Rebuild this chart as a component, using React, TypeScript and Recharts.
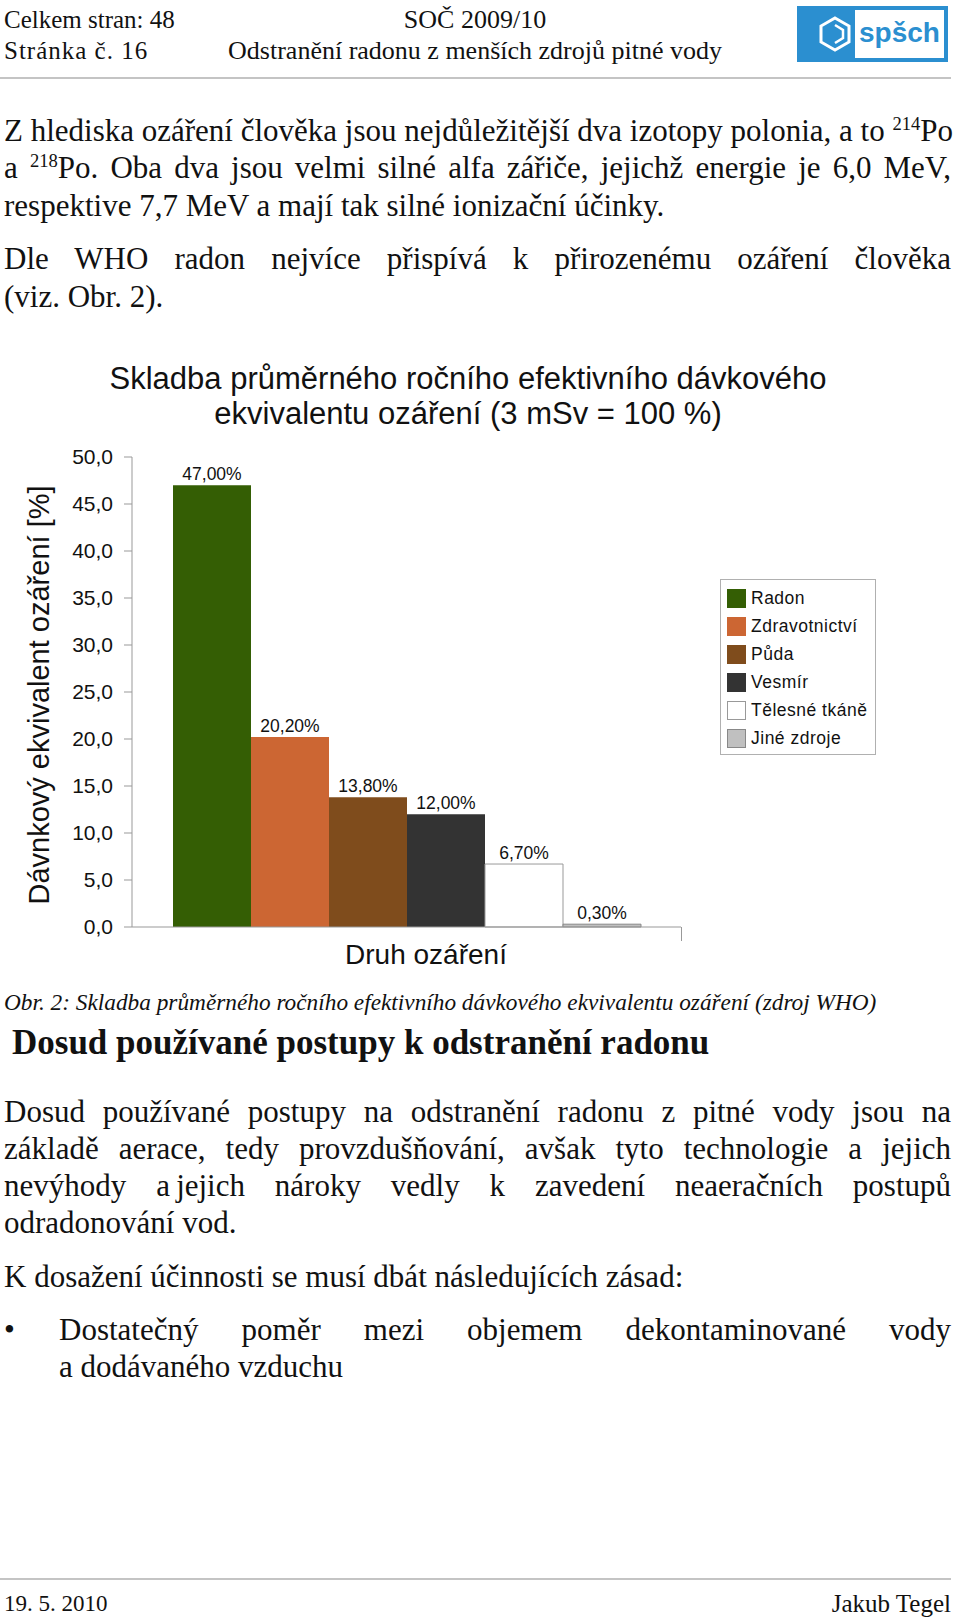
import React from "react";
import { Bar, BarChart, LabelList, XAxis, YAxis } from "recharts";

const sources = ["Radon", "Zdravotnictví", "Půda", "Vesmír", "Tělesné tkáně", "Jiné zdroje"];
const shares = [47.0, 20.2, 13.8, 12.0, 6.7, 0.3];
const fills = ["#345e04", "#cc6633", "#7f4c1c", "#333333", "#ffffff", "#c0c0c0"];
const strokes = ["#345e04", "#cc6633", "#7f4c1c", "#333333", "#999999", "#888888"];
const yTicks = [0, 5, 10, 15, 20, 25, 30, 35, 40, 45, 50];
const categories = ["Druh ozáření"];

const rows = categories.map((c) => {
	const r: { [k: string]: string | number } = { category: c };
	shares.forEach((v, i) => (r["s" + i] = v));
	return r;
});

const serif = '"Liberation Serif", "Times New Roman", serif';
const sans = '"Liberation Sans", Arial, sans-serif';

const T = ({ x, y, size, w, justify, align, style, children }: any) => (
	<div
		style={{
			position: "absolute",
			left: x,
			top: y - size * 0.65,
			width: w,
			fontSize: size,
			lineHeight: `${size * 1.2}px`,
			whiteSpace: "nowrap",
			textAlign: justify ? "justify" : align || "left",
			textAlignLast: justify ? "justify" : undefined,
			fontFamily: serif,
			color: "#111",
			...style,
		}}
	>
		{children}
	</div>
);

const Sup = ({ children }: any) => (
	<sup style={{ fontSize: "0.6em", verticalAlign: "0.6em", lineHeight: 0 }}>{children}</sup>
);

// legend box drawn next to the plot, same order as the series
const LegendBox = () => (
	<div
		style={{
			position: "absolute",
			left: 720,
			top: 579,
			border: "1px solid #b0b0b0",
			background: "#fff",
			width: 156,
			height: 176,
			boxSizing: "border-box",
			padding: "4px 0 0 6px",
			fontFamily: sans,
		}}
	>
		{sources.map((s, i) => (
			<div key={s} style={{ display: "flex", alignItems: "center", height: 28 }}>
				<span
					style={{
						width: 19,
						height: 19,
						boxSizing: "border-box",
						background: fills[i],
						border: `1px solid ${i === 4 ? "#999" : strokes[i]}`,
						marginRight: 5,
					}}
				/>
				<span style={{ fontSize: 17.5, letterSpacing: 0.5, color: "#111" }}>{s}</span>
			</div>
		))}
	</div>
);

const Logo = () => (
	<div style={{ position: "absolute", left: 797, top: 6, width: 151, height: 56, background: "#2b8fd0" }}>
		<div style={{ position: "absolute", left: 58, top: 4, width: 89, height: 48, background: "#fff" }} />
		<svg style={{ position: "absolute", left: 20, top: 10 }} width="36" height="36" viewBox="0 0 36 36">
			<polygon points="18,2 32,10 32,26 18,34 4,26 4,10" fill="none" stroke="#fff" strokeWidth="3" />
			<polyline points="18,9 26,14 26,22 18,27" fill="none" stroke="#fff" strokeWidth="2.5" />
		</svg>
		<div
			style={{
				position: "absolute",
				left: 62,
				top: 8,
				fontFamily: sans,
				fontWeight: "bold",
				fontSize: 28,
				lineHeight: "38px",
				color: "#2b8fd0",
			}}
		>
			spšch
		</div>
	</div>
);

const fmt = (v: number) => v.toFixed(2).replace(".", ",") + "%";

export default function App() {
	return (
		<div style={{ position: "absolute", left: 0, top: 0, width: 960, height: 1620, background: "#fff", overflow: "hidden" }}>
			{/* header */}
			<T x={4} y={21} size={25}>Celkem stran: 48</T>
			<T x={4} y={52} size={25} style={{ letterSpacing: 1 }}>Stránka č. 16</T>
			<T x={175} y={21} size={26} w={600} align="center">SOČ 2009/10</T>
			<T x={175} y={52} size={26} w={600} align="center">Odstranění radonu z menších zdrojů pitné vody</T>
			<Logo />
			<div style={{ position: "absolute", left: 0, top: 77, width: 951, height: 2, background: "#c4c4c4" }} />

			{/* text above the chart */}
			<T x={4} y={132} size={31} w={947} justify>
				Z hlediska ozáření člověka jsou nejdůležitější dva izotopy polonia, a to <Sup>214</Sup>Po
			</T>
			<T x={4} y={169} size={31} w={947} justify>
				a <Sup>218</Sup>Po. Oba dva jsou velmi silné alfa zářiče, jejichž energie je 6,0 MeV,
			</T>
			<T x={4} y={207} size={31}>respektive 7,7 MeV a mají tak silné ionizační účinky.</T>
			<T x={4} y={260} size={31} w={947} justify>
				Dle WHO radon nejvíce přispívá k přirozenému ozáření člověka
			</T>
			<T x={4} y={298} size={31}>(viz. Obr. 2).</T>

			{/* chart title */}
			<T x={68} y={380} size={31} w={800} align="center" style={{ fontFamily: sans }}>
				Skladba průměrného ročního efektivního dávkového
			</T>
			<T x={68} y={415} size={31} w={800} align="center" style={{ fontFamily: sans }}>
				ekvivalentu ozáření (3 mSv = 100 %)
			</T>

			<div style={{ position: "absolute", left: 0, top: 440 }}>
				<BarChart
					width={960}
					height={540}
					data={rows}
					margin={{ top: 17, right: 279, bottom: 0, left: 0 }}
					barGap={0}
					barCategoryGap={41}
				>
					<XAxis
						dataKey="category"
						tick={false}
						tickLine={false}
						axisLine={{ stroke: "#999" }}
						height={53}
					/>
					<YAxis
						width={132}
						domain={[0, 50]}
						ticks={yTicks}
						interval={0}
						tickFormatter={(v: number) => v.toFixed(1).replace(".", ",")}
						tick={{ fill: "#111", fontSize: 21, fontFamily: sans }}
						axisLine={{ stroke: "#999" }}
						tickLine={{ stroke: "#999" }}
						tickSize={8}
						tickMargin={11}
					/>
					{sources.map((s, i) => (
						<Bar
							key={s}
							dataKey={"s" + i}
							name={s}
							fill={fills[i]}
							stroke={i >= 4 ? strokes[i] : "none"}
							strokeWidth={1}
							isAnimationActive={false}
						>
							<LabelList
								dataKey={"s" + i}
								position="top"
								offset={5}
								formatter={(v: any) => fmt(Number(v))}
								style={{ fill: "#111", fontSize: 17.5, fontFamily: sans }}
							/>
						</Bar>
					))}
				</BarChart>
			</div>
			{/* category boundary tick at the right end of the x axis */}
			<div style={{ position: "absolute", left: 681, top: 927, width: 1, height: 14, background: "#999" }} />
			<LegendBox />

			{/* axis titles */}
			<div
				style={{
					position: "absolute",
					left: 39 - 250,
					top: 695 - 17,
					width: 500,
					height: 34,
					lineHeight: "34px",
					textAlign: "center",
					fontFamily: sans,
					fontSize: 29,
					color: "#111",
					transform: "rotate(-90deg)",
					whiteSpace: "nowrap",
				}}
			>
				Dávnkový ekvivalent ozáření [%]
			</div>
			<T x={226} y={956} size={28} w={400} align="center" style={{ fontFamily: sans }}>
				Druh ozáření
			</T>

			{/* caption and text below */}
			<T x={4} y={1004} size={23.3} style={{ fontStyle: "italic" }}>
				Obr. 2: Skladba průměrného ročního efektivního dávkového ekvivalentu ozáření (zdroj WHO)
			</T>
			<T x={12} y={1045} size={35} style={{ fontWeight: "bold" }}>
				Dosud používané postupy k odstranění radonu
			</T>
			<T x={4} y={1113} size={31} w={947} justify>
				Dosud používané postupy na odstranění radonu z pitné vody jsou na
			</T>
			<T x={4} y={1150} size={31} w={947} justify>
				základě aerace, tedy provzdušňování, avšak tyto technologie a jejich
			</T>
			<T x={4} y={1187} size={31} w={947} justify>
				nevýhody a{"\u202F"}jejich nároky vedly k zavedení neaeračních postupů
			</T>
			<T x={4} y={1224} size={31}>odradonování vod.</T>
			<T x={4} y={1278} size={31}>K dosažení účinnosti se musí dbát následujících zásad:</T>
			<T x={4} y={1331} size={31}>•</T>
			<T x={59} y={1331} size={31} w={892} justify>
				Dostatečný poměr mezi objemem dekontaminované vody
			</T>
			<T x={59} y={1368} size={31}>a dodávaného vzduchu</T>

			{/* footer */}
			<div style={{ position: "absolute", left: 0, top: 1578, width: 951, height: 2, background: "#c4c4c4" }} />
			<T x={4} y={1605} size={23}>19. 5. 2010</T>
			<T x={651} y={1605} size={25} w={300} align="right">Jakub Tegel</T>
		</div>
	);
}
